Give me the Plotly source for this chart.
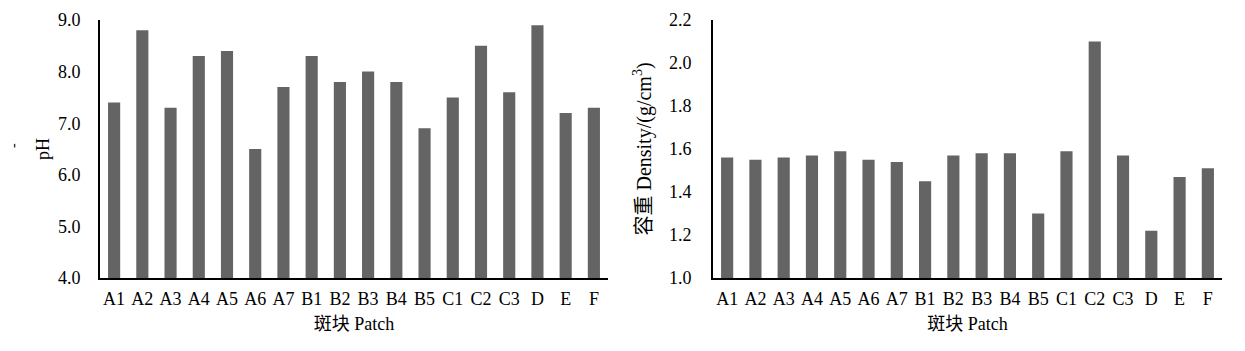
import plotly.graph_objects as go

categories = ["A1", "A2", "A3", "A4", "A5", "A6", "A7", "B1", "B2", "B3", "B4",
              "B5", "C1", "C2", "C3", "D", "E", "F"]
ph_values = [7.4, 8.8, 7.3, 8.3, 8.4, 6.5, 7.7, 8.3, 7.8, 8.0, 7.8,
             6.9, 7.5, 8.5, 7.6, 8.9, 7.2, 7.3]
density_values = [1.56, 1.55, 1.56, 1.57, 1.59, 1.55, 1.54, 1.45, 1.57, 1.58, 1.58,
                  1.30, 1.59, 2.10, 1.57, 1.22, 1.47, 1.51]
ph_ticks = [4.0, 5.0, 6.0, 7.0, 8.0, 9.0]
density_ticks = [1.0, 1.2, 1.4, 1.6, 1.8, 2.0, 2.2]

W, H = 1245, 351
FONT = "Liberation Serif, Noto Sans CJK SC"
BAR = "#646464"

fig = go.Figure()
fig.add_trace(go.Bar(x=categories, y=ph_values, marker_color=BAR,
                     marker_line_width=0, xaxis="x", yaxis="y"))
fig.add_trace(go.Bar(x=categories, y=density_values, marker_color=BAR,
                     marker_line_width=0, xaxis="x2", yaxis="y2"))

ydom = [1 - 278 / H, 1 - 20 / H]
axis_common = dict(showline=True, linecolor="black", linewidth=2, showgrid=False,
                   zeroline=False, ticks="", automargin=False,
                   tickfont=dict(family=FONT, size=18, color="black"))
title_font = dict(family=FONT, size=18, color="black")

fig.update_layout(
    width=W, height=H,
    margin=dict(l=0, r=0, t=0, b=0),
    paper_bgcolor="white", plot_bgcolor="white",
    showlegend=False,
    bargap=0.57,
    font=dict(family=FONT, color="black"),
    xaxis=dict(domain=[100 / W, 608 / W], anchor="y", ticklabelstandoff=3,
               title=dict(text="斑块 Patch", font=title_font, standoff=10),
               **axis_common),
    yaxis=dict(domain=ydom, anchor="x", range=[4.0, 9.0], tickvals=ph_ticks,
               ticktext=[f"{v:.1f}" for v in ph_ticks], ticklabelstandoff=14,
               title=dict(text="pH", font=title_font, standoff=4),
               **axis_common),
    xaxis2=dict(domain=[713 / W, 1222 / W], anchor="y2", ticklabelstandoff=3,
                title=dict(text="斑块 Patch", font=title_font, standoff=10),
                **axis_common),
    yaxis2=dict(domain=ydom, anchor="x2", range=[1.0, 2.2], tickvals=density_ticks,
                ticktext=[f"{v:.1f}" for v in density_ticks], ticklabelstandoff=16,
                title=dict(text="容重 Density/(g/cm<sup>3</sup>)",
                           font=dict(family=FONT, size=20, color="black"), standoff=12),
                **axis_common),
)

fig.add_annotation(xref="paper", yref="paper", x=13 / W, y=1 - 146 / H, text="-",
                   textangle=-90, showarrow=False, xanchor="center", yanchor="middle",
                   font=dict(family=FONT, size=14, color="black"))

fig.write_html("out.html")
